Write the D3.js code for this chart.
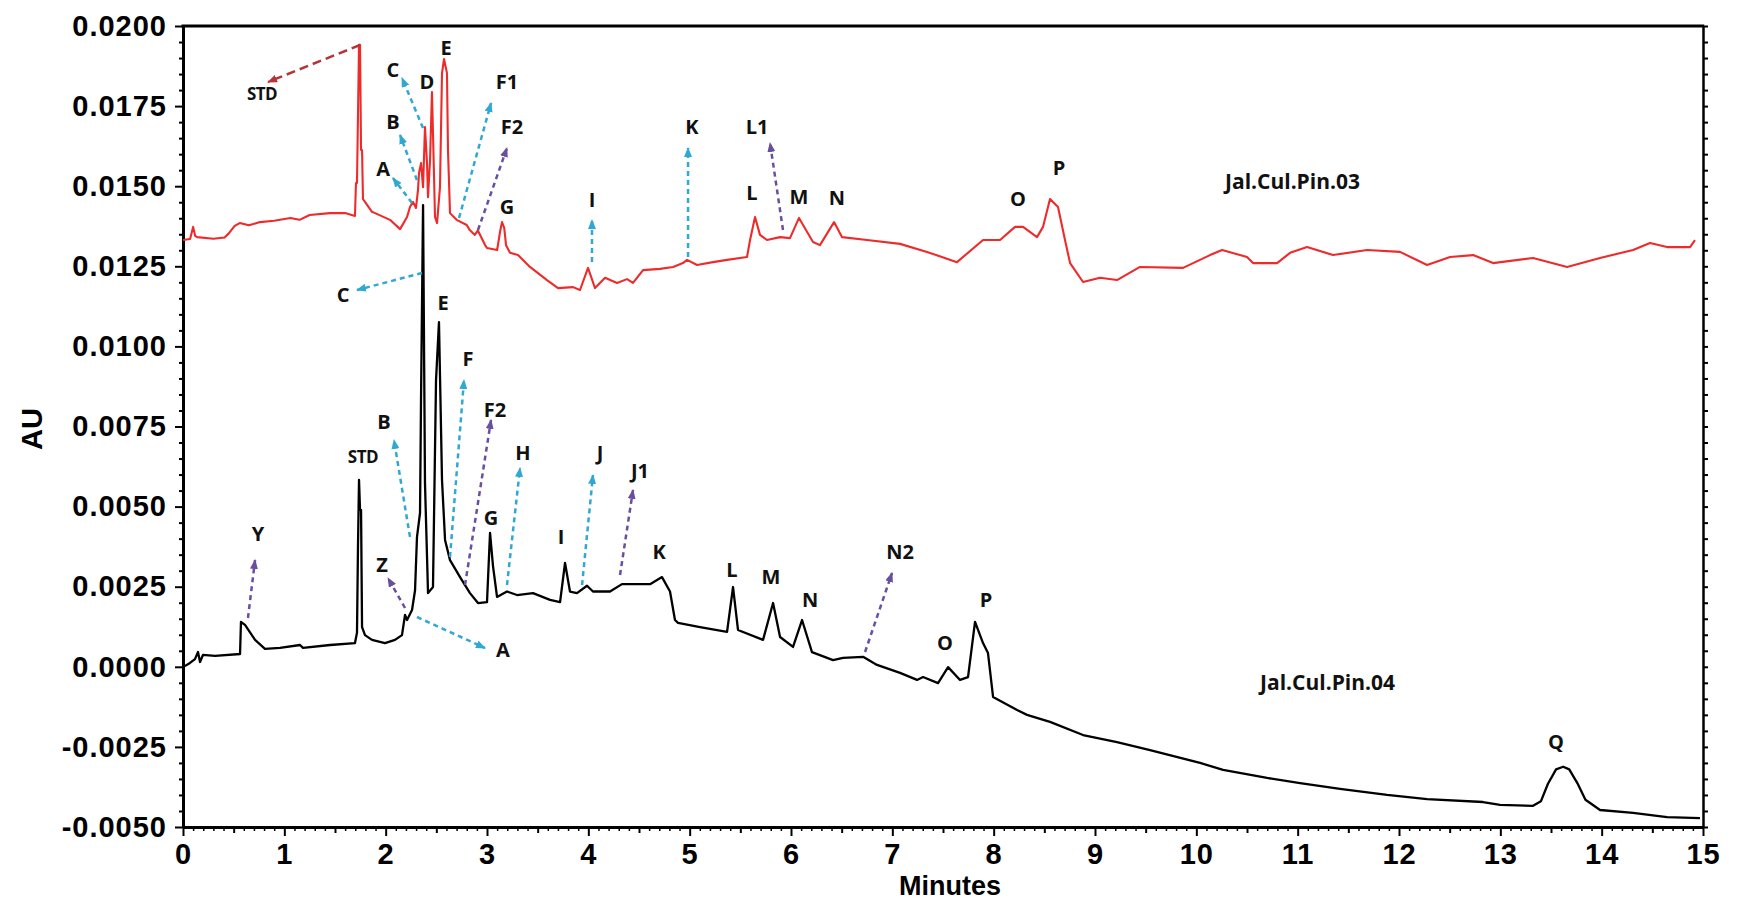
<!DOCTYPE html>
<html>
<head>
<meta charset="utf-8">
<script src="https://cdn.jsdelivr.net/npm/d3@7"></script>
<style>
  body { margin: 0; background: #fff; }
  svg { display: block; }
</style>
</head>
<body>
<svg id="chart" width="1743" height="903"></svg>
<script>
// ---- axis ranges and ticks ----
const timeDomain = [0, 15];
const auDomain = [-0.005, 0.02];
const xTickValues = d3.range(0, 16);
const yTickValues = [-0.005, -0.0025, 0, 0.0025, 0.005, 0.0075, 0.01, 0.0125, 0.015, 0.0175, 0.02];

// ---- chromatogram Jal.Cul.Pin.03 (time in minutes, absorbance in AU) ----
const pin03 = [
  [0, 0.01332], [0.07, 0.01335], [0.10, 0.01373], [0.12, 0.01345], [0.14, 0.01341],
  [0.30, 0.01336], [0.41, 0.01340], [0.45, 0.01352], [0.51, 0.01376], [0.56, 0.01385],
  [0.65, 0.01378], [0.76, 0.01388], [0.90, 0.01392], [1.06, 0.01401], [1.15, 0.01395],
  [1.25, 0.01410], [1.45, 0.01416], [1.60, 0.01416], [1.697, 0.01407], [1.707, 0.01510],
  [1.717, 0.01510], [1.737, 0.01941], [1.747, 0.01941], [1.757, 0.01613], [1.767, 0.01613],
  [1.776, 0.01460], [1.796, 0.01451], [1.865, 0.01420], [1.895, 0.01416], [2.043, 0.01395],
  [2.142, 0.01366], [2.211, 0.01404], [2.240, 0.01435], [2.270, 0.01451], [2.299, 0.01432],
  [2.319, 0.01488], [2.329, 0.01541], [2.349, 0.01572], [2.369, 0.01497], [2.388, 0.01685],
  [2.408, 0.01572], [2.418, 0.01466], [2.438, 0.01582], [2.457, 0.01794], [2.467, 0.01666],
  [2.487, 0.01404], [2.507, 0.01385], [2.536, 0.01497], [2.556, 0.01853], [2.576, 0.01897],
  [2.605, 0.01853], [2.615, 0.01613], [2.635, 0.01416], [2.70, 0.01395], [2.80, 0.01379],
  [2.83, 0.01363], [2.88, 0.01348], [2.91, 0.01362], [2.98, 0.01317], [3.00, 0.01307],
  [3.10, 0.01301], [3.13, 0.01360], [3.148, 0.01388], [3.17, 0.01370], [3.188, 0.01316],
  [3.227, 0.01292], [3.306, 0.01285], [3.424, 0.01248], [3.592, 0.01207], [3.701, 0.01182],
  [3.849, 0.01185], [3.918, 0.01176], [3.997, 0.01245], [4.066, 0.01182], [4.165, 0.01214],
  [4.283, 0.01198], [4.382, 0.01210], [4.441, 0.01198], [4.540, 0.01238], [4.708, 0.01242],
  [4.836, 0.01248], [4.934, 0.01260], [4.974, 0.01270], [5.073, 0.01254], [5.230, 0.01263],
  [5.369, 0.01270], [5.566, 0.01279], [5.596, 0.01332], [5.645, 0.01404], [5.694, 0.01348],
  [5.763, 0.01332], [5.892, 0.01341], [5.990, 0.01338], [6.079, 0.01401], [6.217, 0.01326],
  [6.286, 0.01316], [6.425, 0.01388], [6.504, 0.01341], [6.750, 0.01332], [7.076, 0.01320],
  [7.342, 0.01295], [7.638, 0.01263], [7.895, 0.01332], [8.063, 0.01332], [8.211, 0.01373],
  [8.290, 0.01373], [8.428, 0.01341], [8.487, 0.01373], [8.556, 0.01460], [8.635, 0.01435],
  [8.704, 0.01332], [8.754, 0.01260], [8.882, 0.01201], [9.050, 0.01214], [9.217, 0.01207],
  [9.444, 0.01248], [9.869, 0.01245], [10.135, 0.01285], [10.254, 0.01301], [10.500, 0.01279],
  [10.560, 0.01260], [10.797, 0.01260], [10.925, 0.01292], [11.093, 0.01310], [11.349, 0.01285],
  [11.685, 0.01301], [12.010, 0.01295], [12.277, 0.01254], [12.504, 0.01279], [12.731, 0.01285],
  [12.928, 0.01260], [13.323, 0.01276], [13.659, 0.01248], [13.984, 0.01276], [14.310, 0.01301],
  [14.477, 0.01323], [14.645, 0.01310], [14.872, 0.01310], [14.921, 0.01332]
];

// ---- chromatogram Jal.Cul.Pin.04 ----
const pin04 = [
  [0, -0.00001], [0.069, 0.00012], [0.118, 0.00024], [0.148, 0.00046], [0.168, 0.00015],
  [0.197, 0.00037], [0.316, 0.00034], [0.563, 0.00040], [0.572, 0.00140], [0.612, 0.00131],
  [0.711, 0.00084], [0.809, 0.00056], [0.957, 0.00059], [1.155, 0.00068], [1.184, 0.00059],
  [1.451, 0.00068], [1.697, 0.00074], [1.717, 0.00106], [1.727, 0.00380], [1.737, 0.00583],
  [1.747, 0.00490], [1.757, 0.00490], [1.767, 0.00124], [1.796, 0.00099], [1.865, 0.00084],
  [1.993, 0.00074], [2.092, 0.00084], [2.161, 0.00099], [2.191, 0.00162], [2.211, 0.00146],
  [2.260, 0.00177], [2.290, 0.00239], [2.309, 0.00405], [2.339, 0.00480], [2.349, 0.00839],
  [2.369, 0.01441], [2.388, 0.00574], [2.418, 0.00230], [2.467, 0.00249], [2.497, 0.00895],
  [2.526, 0.01076], [2.556, 0.00583], [2.586, 0.00396], [2.635, 0.00333], [2.734, 0.00280],
  [2.832, 0.00230], [2.911, 0.00199], [3.000, 0.00202], [3.030, 0.00418], [3.059, 0.00315],
  [3.099, 0.00218], [3.197, 0.00235], [3.296, 0.00224], [3.454, 0.00230], [3.622, 0.00209],
  [3.721, 0.00202], [3.770, 0.00324], [3.819, 0.00235], [3.888, 0.00230], [3.987, 0.00253],
  [4.046, 0.00235], [4.214, 0.00235], [4.332, 0.00258], [4.609, 0.00258], [4.727, 0.00280],
  [4.806, 0.00235], [4.855, 0.00146], [4.885, 0.00137], [5.102, 0.00124], [5.369, 0.00109],
  [5.428, 0.00249], [5.477, 0.00115], [5.724, 0.00084], [5.823, 0.00199], [5.892, 0.00093],
  [6.020, 0.00062], [6.109, 0.00146], [6.207, 0.00046], [6.415, 0.00021], [6.513, 0.00028],
  [6.711, 0.00031], [6.849, 0.00006], [7.076, -0.00019], [7.244, -0.00041], [7.303, -0.00032],
  [7.451, -0.00051], [7.550, -0.00001], [7.668, -0.00041], [7.747, -0.00032], [7.816, 0.00140],
  [7.895, 0.00074], [7.944, 0.00043], [7.994, -0.00094], [8.231, -0.00135], [8.329, -0.00150],
  [8.556, -0.00172], [8.882, -0.00213], [9.217, -0.00235], [9.543, -0.00260], [10.037, -0.00300],
  [10.264, -0.00322], [10.698, -0.00347], [11.024, -0.00363], [11.418, -0.00381], [11.882, -0.00400],
  [12.277, -0.00413], [12.829, -0.00422], [12.997, -0.00431], [13.323, -0.00434], [13.40, -0.00420],
  [13.47, -0.00365], [13.55, -0.00320], [13.62, -0.00312], [13.68, -0.00320], [13.76, -0.00363],
  [13.84, -0.00415], [13.984, -0.00447], [14.310, -0.00456], [14.645, -0.00469], [14.970, -0.00472]
];

// ---- peak labels: [text, time, AU] ----
const labels03 = [
  ["STD", 0.780, 0.01769], ["C", 2.072, 0.018408], ["D", 2.408, 0.018033], ["E", 2.596, 0.019094],
  ["B", 2.072, 0.016785], ["A", 1.974, 0.015318], ["F1", 3.197, 0.018033], ["F2", 3.247, 0.016629],
  ["G", 3.197, 0.014132], ["I", 4.036, 0.01435], ["K", 5.023, 0.016629], ["L1", 5.665, 0.016629],
  ["L", 5.615, 0.014569], ["M", 6.079, 0.014444], ["N", 6.454, 0.014413], ["O", 8.240, 0.014382],
  ["P", 8.645, 0.015349]
];
const labels04 = [
  ["C", 1.579, 0.011385], ["E", 2.566, 0.011136], ["F", 2.813, 0.009388], ["F2", 3.079, 0.007797],
  ["B", 1.984, 0.007422], ["STD", 1.776, 0.006361], ["H", 3.355, 0.006454], ["J", 4.115, 0.006454],
  ["J1", 4.510, 0.005893], ["G", 3.040, 0.004426], ["I", 3.730, 0.003833], ["K", 4.698, 0.003365],
  ["L", 5.418, 0.002803], ["M", 5.803, 0.002585], ["Z", 1.964, 0.002959], ["A", 3.158, 0.000306],
  ["N", 6.188, 0.001866], ["N2", 7.076, 0.003365], ["O", 7.520, 0.000524], ["P", 7.925, 0.001866],
  ["Y", 0.740, 0.003926], ["Q", 13.550, -0.002566]
];
const sampleNames = [
  ["Jal.Cul.Pin.03", 10.283, 0.014912],
  ["Jal.Cul.Pin.04", 10.629, -0.000724]
];

// ---- pointer arrows: [kind, tailTime, tailAU, headTime, headAU] ----
const arrows = [
  ["std", 1.747, 0.019407, 0.839, 0.018252],
  ["blue", 2.369, 0.016816, 2.161, 0.018377],
  ["blue", 2.309, 0.015193, 2.142, 0.016598],
  ["blue", 2.260, 0.014475, 2.072, 0.015256],
  ["blue", 2.724, 0.014007, 3.040, 0.017596],
  ["purple", 2.911, 0.013633, 3.197, 0.016192],
  ["blue", 4.036, 0.012634, 4.036, 0.013945],
  ["blue", 4.984, 0.012790, 4.984, 0.016192],
  ["purple", 5.921, 0.013633, 5.793, 0.016348],
  ["blue", 2.359, 0.012291, 1.717, 0.011760],
  ["blue", 2.240, 0.004051, 2.082, 0.007079],
  ["purple", 2.191, 0.001835, 2.023, 0.002771],
  ["blue", 2.309, 0.001554, 2.980, 0.000587],
  ["blue", 2.635, 0.003427, 2.773, 0.008951],
  ["purple", 2.783, 0.002553, 3.040, 0.007703],
  ["blue", 3.197, 0.002553, 3.326, 0.006205],
  ["blue", 3.938, 0.002553, 4.046, 0.005986],
  ["purple", 4.313, 0.002865, 4.441, 0.005518],
  ["purple", 6.731, 0.000462, 6.997, 0.002928],
  ["purple", 0.641, 0.001523, 0.711, 0.003333]
];

// ---- layout ----
const svg = d3.select("#chart");
const plot = { left: 183, right: 1703, top: 26, bottom: 827 };
const x = d3.scaleLinear().domain(timeDomain).range([plot.left, plot.right]);
const y = d3.scaleLinear().domain(auDomain).range([plot.bottom, plot.top]);

const arrowColors = { blue: "#2fa8d2", purple: "#6a4ea0", std: "#b3353a" };
const tickFont = "'Liberation Sans', Arial, sans-serif";
const labelFont = "'Open Sans', 'Noto Sans', sans-serif";

// arrowhead markers
const defs = svg.append("defs");
Object.entries(arrowColors).forEach(([k, c]) => {
  defs.append("marker")
    .attr("id", "head-" + k)
    .attr("markerUnits", "userSpaceOnUse")
    .attr("viewBox", "0 0 10 8")
    .attr("refX", 9).attr("refY", 4)
    .attr("markerWidth", 10).attr("markerHeight", 8)
    .attr("orient", "auto")
    .append("path").attr("d", "M0,0 L10,4 L0,8 Z").attr("fill", c);
});

// ---- axes ----
const fmt = v => d3.format(".4f")(v).replace("\u2212", "-");
const yMinor = d3.range(-0.005, 0.02001, 0.0005).filter(v => !yTickValues.some(t => Math.abs(t - v) < 1e-9));
const xMinor = d3.range(0, 15.001, 0.1).filter(v => Math.abs(v - Math.round(v)) > 1e-6 && Math.abs(v - Math.floor(v) - 0.5) > 1e-6);
const xHalf = d3.range(0.5, 15, 1);

function styleAxis(g, width) {
  g.select(".domain").attr("stroke", "#000").attr("stroke-width", width);
  g.selectAll(".tick line").attr("stroke", "#000").attr("stroke-width", 2);
  g.selectAll(".tick text")
    .attr("fill", "#000")
    .style("font-family", tickFont)
    .style("font-weight", "bold")
    .style("font-size", "29px")
    .style("letter-spacing", "1px");
}

// left axis
svg.append("g").attr("transform", `translate(${plot.left},0)`)
  .call(d3.axisLeft(y).tickValues(yMinor).tickSize(4).tickSizeOuter(0).tickFormat(""))
  .call(g => g.select(".domain").remove())
  .call(g => g.selectAll(".tick line").attr("stroke", "#000").attr("stroke-width", 2));
svg.append("g").attr("transform", `translate(${plot.left},0)`)
  .call(d3.axisLeft(y).tickValues(yTickValues).tickSize(8).tickPadding(8).tickSizeOuter(0).tickFormat(fmt))
  .call(g => styleAxis(g, 3));

// right axis (ticks only)
svg.append("g").attr("transform", `translate(${plot.right},0)`)
  .call(d3.axisRight(y).tickValues(d3.range(-0.005, 0.02001, 0.0005)).tickSize(5).tickSizeOuter(0).tickFormat(""))
  .call(g => styleAxis(g, 2.5));

// bottom axis
svg.append("g").attr("transform", `translate(0,${plot.bottom})`)
  .call(d3.axisBottom(x).tickValues(xMinor).tickSize(4).tickSizeOuter(0).tickFormat(""))
  .call(g => g.select(".domain").remove())
  .call(g => g.selectAll(".tick line").attr("stroke", "#000").attr("stroke-width", 1.5));
svg.append("g").attr("transform", `translate(0,${plot.bottom})`)
  .call(d3.axisBottom(x).tickValues(xHalf).tickSize(6).tickSizeOuter(0).tickFormat(""))
  .call(g => g.select(".domain").remove())
  .call(g => g.selectAll(".tick line").attr("stroke", "#000").attr("stroke-width", 2));
svg.append("g").attr("transform", `translate(0,${plot.bottom})`)
  .call(d3.axisBottom(x).tickValues(xTickValues).tickSize(9).tickPadding(7).tickSizeOuter(0).tickFormat(d3.format("d")))
  .call(g => styleAxis(g, 3));

// top frame line
svg.append("line")
  .attr("x1", plot.left - 1.5).attr("x2", plot.right + 1.2)
  .attr("y1", plot.top).attr("y2", plot.top)
  .attr("stroke", "#000").attr("stroke-width", 3);

// axis titles
svg.append("text")
  .attr("transform", `translate(42,429) rotate(-90)`)
  .attr("text-anchor", "middle")
  .style("font-family", tickFont).style("font-weight", "bold").style("font-size", "29px")
  .text("AU");
svg.append("text")
  .attr("x", 950).attr("y", 895)
  .attr("text-anchor", "middle")
  .style("font-family", tickFont).style("font-weight", "bold").style("font-size", "27px")
  .text("Minutes");

// ---- traces ----
const line = d3.line().x(d => x(d[0])).y(d => y(d[1]));
svg.append("path").datum(pin04)
  .attr("d", line).attr("fill", "none")
  .attr("stroke", "#000").attr("stroke-width", 2.3).attr("stroke-linejoin", "round");
svg.append("path").datum(pin03)
  .attr("d", line).attr("fill", "none")
  .attr("stroke", "#ee2b2b").attr("stroke-width", 2.1).attr("stroke-linejoin", "round");

// ---- arrows ----
svg.append("g").selectAll("line").data(arrows).join("line")
  .attr("x1", d => x(d[1])).attr("y1", d => y(d[2]))
  .attr("x2", d => x(d[3])).attr("y2", d => y(d[4]))
  .attr("stroke", d => arrowColors[d[0]])
  .attr("stroke-width", 2.5)
  .attr("stroke-dasharray", d => d[0] === "std" ? "9,5" : "5,4")
  .attr("marker-end", d => `url(#head-${d[0]})`);

// ---- labels ----
const allLabels = labels03.concat(labels04);
svg.append("g").selectAll("text").data(allLabels).join("text")
  .attr("x", d => x(d[1])).attr("y", d => y(d[2]))
  .attr("text-anchor", "middle")
  .style("font-family", labelFont)
  .style("font-weight", "bold")
  .style("font-size", d => d[0] === "STD" ? "17px" : "20px")
  .style("letter-spacing", d => d[0] === "STD" ? "-0.5px" : "0px")
  .attr("fill", "#111")
  .text(d => d[0]);

svg.append("g").selectAll("text").data(sampleNames).join("text")
  .attr("x", d => x(d[1])).attr("y", d => y(d[2]))
  .attr("text-anchor", "start")
  .style("font-family", labelFont)
  .style("font-weight", "bold")
  .style("font-size", "21px")
  .attr("fill", "#111")
  .text(d => d[0]);
</script>
</body>
</html>
